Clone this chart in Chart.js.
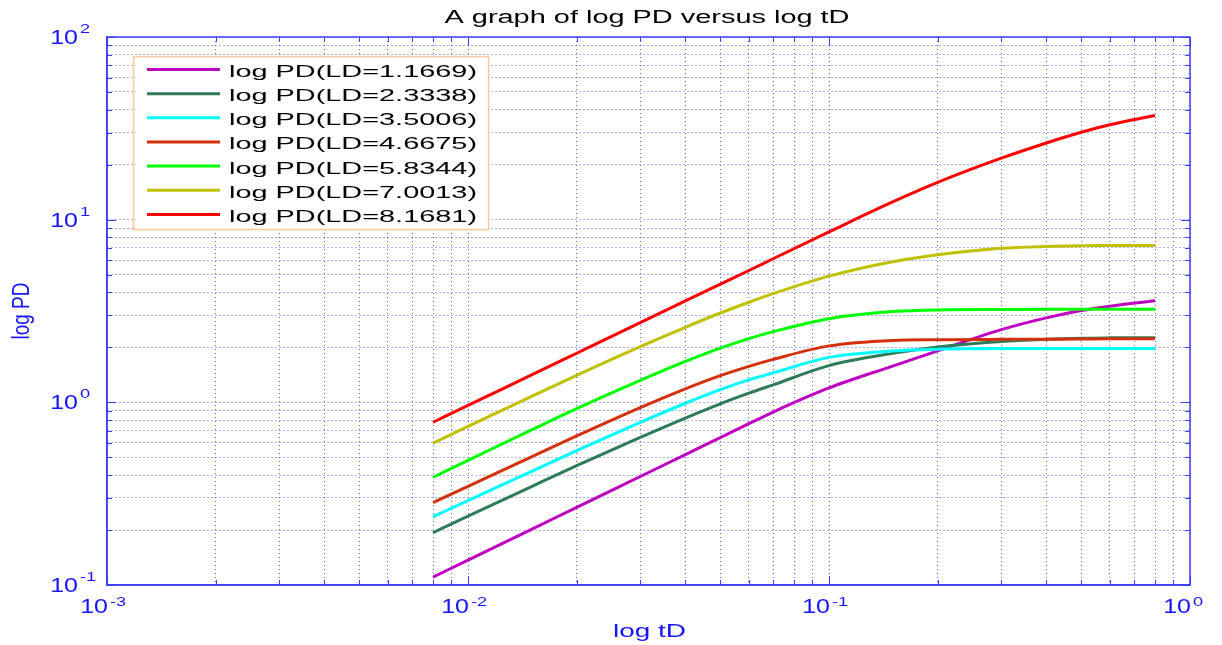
<!DOCTYPE html>
<html lang="en">
<head>
    <meta charset="UTF-8">
    <title>A graph of log PD versus log tD</title>
    <script src="https://cdn.jsdelivr.net/npm/chart.js"></script>
    <style>
        body { margin: 0; background: #fff; }
    </style>
</head>
<body>
    <canvas id="myChart" width="1222" height="645"></canvas>
    <script>
        // values
        const tD = [0.008, 0.01, 0.015, 0.02, 0.03, 0.04, 0.05, 0.06, 0.07, 0.1, 0.15, 0.2, 0.3, 0.4, 0.5, 0.6, 0.8];

        const pdLD1 = [0.1104, 0.1368, 0.2018, 0.2661, 0.3926, 0.5176, 0.6412, 0.7638, 0.8851, 1.199, 1.58, 1.914, 2.50, 2.90, 3.18, 3.36, 3.60];
        const pdLD2 = [0.1936, 0.2382, 0.3459, 0.4498, 0.6427, 0.8204, 0.9817, 1.122, 1.247, 1.589, 1.854, 2.009, 2.153, 2.213, 2.244, 2.254, 2.259];
        const pdLD3 = [0.2366, 0.2897, 0.4188, 0.5433, 0.7762, 0.9886, 1.175, 1.327, 1.449, 1.762, 1.91, 1.954, 1.968, 1.968, 1.968, 1.968, 1.968];
        const pdLD4 = [0.2825, 0.3467, 0.5035, 0.6546, 0.9354, 1.186, 1.40, 1.574, 1.718, 2.037, 2.183, 2.203, 2.213, 2.218, 2.223, 2.228, 2.228];
        const pdLD5 = [0.389, 0.481, 0.706, 0.923, 1.318, 1.675, 1.982, 2.234, 2.438, 2.871, 3.141, 3.206, 3.221, 3.228, 3.228, 3.228, 3.228];
        const pdLD6 = [0.597, 0.738, 1.079, 1.406, 2.018, 2.576, 3.083, 3.532, 3.936, 4.909, 5.888, 6.427, 6.966, 7.129, 7.194, 7.211, 7.211];
        const pdLD7 = [0.778, 0.962, 1.413, 1.857, 2.73, 3.59, 4.44, 5.27, 6.11, 8.57, 12.5, 16.0, 21.7, 26.3, 30.1, 33.1, 37.2];

        const seriesLabels = [
            "log PD(LD=1.1669)", "log PD(LD=2.3338)", "log PD(LD=3.5006)", "log PD(LD=4.6675)",
            "log PD(LD=5.8344)", "log PD(LD=7.0013)", "log PD(LD=8.1681)"
        ];
        const seriesValues = [pdLD1, pdLD2, pdLD3, pdLD4, pdLD5, pdLD6, pdLD7];
        const seriesColors = ["#c000c0", "#2e7b58", "#00ffff", "#d4300c", "#00ff00", "#c0c000", "#ff0000"];

        const xDecades = [-3, -2, -1, 0];
        const yDecades = [-1, 0, 1, 2];

        const FONT = '"Liberation Sans", Arial, sans-serif';
        const AXIS_BLUE = "#1414ff";

        // 1..9 x 10^e for every decade shown
        const logTicks = (decades) => {
            const out = [];
            for (let d = 0; d < decades.length - 1; d++) {
                for (let s = 1; s <= 9; s++) out.push(s * Math.pow(10, decades[d]));
            }
            out.push(Math.pow(10, decades[decades.length - 1]));
            return out;
        };
        const isDecade = v => Math.abs(Math.log10(v) - Math.round(Math.log10(v))) < 1e-9;

        const wideText = (ctx, text, x, y, sx, align) => {
            ctx.save();
            ctx.translate(x, y);
            ctx.scale(sx, 1);
            ctx.textAlign = align;
            ctx.fillText(text, 0, 0);
            ctx.restore();
        };

        const matlabDecor = {
            id: "matlabDecor",
            afterDatasetsDraw(chart) {
                const ctx = chart.ctx;
                const { left, right, top, bottom } = chart.chartArea;
                const xs = chart.scales.x, ys = chart.scales.y;

                // box and inward tick marks
                ctx.save();
                ctx.strokeStyle = "#3c3cff";
                ctx.lineWidth = 1.5;
                ctx.strokeRect(left, top, right - left, bottom - top);
                ctx.lineWidth = 1;
                xs.ticks.forEach(t => {
                    const px = Math.round(xs.getPixelForValue(t.value)) + 0.5;
                    const len = isDecade(t.value) ? 9 : 5;
                    ctx.beginPath();
                    ctx.moveTo(px, bottom); ctx.lineTo(px, bottom - len);
                    ctx.moveTo(px, top); ctx.lineTo(px, top + len);
                    ctx.stroke();
                });
                ys.ticks.forEach(t => {
                    const py = Math.round(ys.getPixelForValue(t.value)) + 0.5;
                    const len = isDecade(t.value) ? 9 : 5;
                    ctx.beginPath();
                    ctx.moveTo(left, py); ctx.lineTo(left + len, py);
                    ctx.moveTo(right, py); ctx.lineTo(right - len, py);
                    ctx.stroke();
                });
                ctx.restore();

                // tick labels as 10 with a raised exponent
                ctx.save();
                ctx.fillStyle = AXIS_BLUE;
                ctx.textBaseline = "alphabetic";
                xDecades.forEach(e => {
                    const px = xs.getPixelForValue(Math.pow(10, e));
                    ctx.font = "20px " + FONT;
                    wideText(ctx, "10", px + 1, bottom + 28, 1.25, "right");
                    ctx.font = "13px " + FONT;
                    wideText(ctx, String(e), px + 3, bottom + 21, 1.4, "left");
                });
                yDecades.forEach(e => {
                    const py = ys.getPixelForValue(Math.pow(10, e));
                    ctx.font = "20px " + FONT;
                    wideText(ctx, "10", 78, py + 7, 1.25, "right");
                    ctx.font = "13px " + FONT;
                    wideText(ctx, String(e), 80, py - 4, 1.4, "left");
                });

                // axis titles
                ctx.font = "18px " + FONT;
                const xt = "log tD";
                wideText(ctx, xt, (left + right) / 2 + 1, 637, 73 / ctx.measureText(xt).width, "center");
                ctx.save();
                ctx.translate(29, 311);
                ctx.scale(1.3, 1);
                ctx.rotate(-Math.PI / 2);
                ctx.textAlign = "center";
                ctx.font = "19px " + FONT;
                ctx.fillText("log PD", 0, 0);
                ctx.restore();

                // title
                ctx.fillStyle = "#000";
                ctx.font = "18px " + FONT;
                const tt = "A graph of log PD versus log tD";
                wideText(ctx, tt, 647, 23, 405 / ctx.measureText(tt).width, "center");
                ctx.restore();

                // legend box
                ctx.save();
                ctx.fillStyle = "#fff";
                ctx.fillRect(133, 56, 355, 174);
                ctx.strokeStyle = "#ffc896";
                ctx.lineWidth = 1.5;
                ctx.strokeRect(133.5, 56.5, 355, 173);
                ctx.font = "17px " + FONT;
                const lsx = 248 / ctx.measureText(seriesLabels[0]).width;
                seriesLabels.forEach((lab, i) => {
                    const ly = 69.5 + i * 24.15;
                    ctx.strokeStyle = seriesColors[i];
                    ctx.lineWidth = 3;
                    ctx.beginPath();
                    ctx.moveTo(147, ly); ctx.lineTo(220, ly);
                    ctx.stroke();
                    ctx.fillStyle = "#000";
                    wideText(ctx, lab, 229, ly + 7.5, lsx, "left");
                });
                ctx.restore();
            }
        };

        const gridOpts = {
            color: "rgba(40,40,255,0.75)",
            lineWidth: 1,
            drawTicks: false
        };

        const ctx = document.getElementById("myChart").getContext("2d");
        new Chart(ctx, {
            type: "line",
            data: {
                datasets: seriesLabels.map((lab, i) => ({
                    label: lab,
                    data: tD.map((t, k) => ({ x: t, y: seriesValues[i][k] })),
                    borderColor: seriesColors[i],
                    borderWidth: 3,
                    pointRadius: 0,
                    fill: false,
                    cubicInterpolationMode: "monotone",
                    order: seriesLabels.length - 1 - i
                }))
            },
            options: {
                responsive: false,
                animation: false,
                layout: { padding: { left: 107, right: 32, top: 37, bottom: 60 } },
                plugins: {
                    legend: { display: false },
                    title: { display: false },
                    tooltip: { enabled: false }
                },
                scales: {
                    x: {
                        type: "logarithmic",
                        min: 0.001,
                        max: 1,
                        afterBuildTicks: s => { s.ticks = logTicks(xDecades).map(v => ({ value: v })); },
                        ticks: { display: false },
                        grid: gridOpts,
                        border: { display: true, color: "#3c3cff", width: 1.5, dash: [1, 3] }
                    },
                    y: {
                        type: "logarithmic",
                        min: 0.1,
                        max: 100,
                        afterBuildTicks: s => { s.ticks = logTicks(yDecades).map(v => ({ value: v })); },
                        ticks: { display: false },
                        grid: gridOpts,
                        border: { display: true, color: "#3c3cff", width: 1.5, dash: [1, 3] }
                    }
                }
            },
            plugins: [matlabDecor]
        });
    </script>
</body>
</html>
